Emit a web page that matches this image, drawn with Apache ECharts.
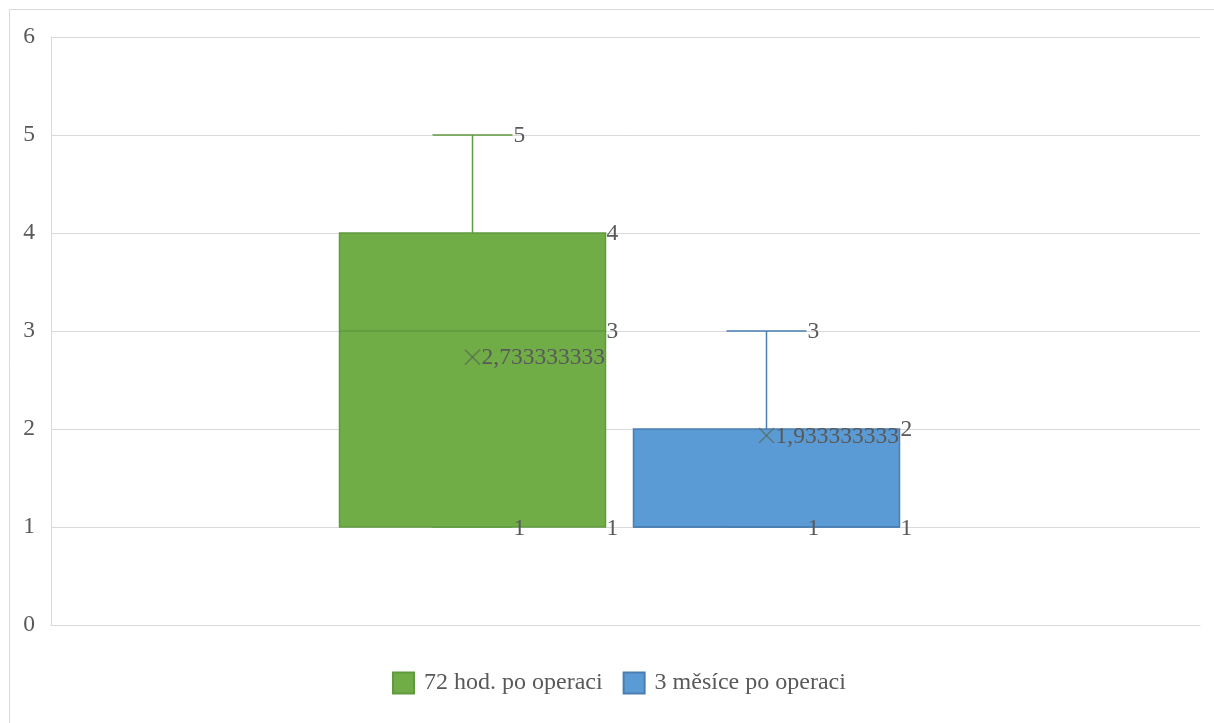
<!DOCTYPE html>
<html>
<head>
<meta charset="utf-8">
<script src="https://cdn.jsdelivr.net/npm/echarts@6/dist/echarts.min.js"></script>
<style>
html,body{margin:0;padding:0;background:#fff;}
#chart{width:1214px;height:723px;}
</style>
</head>
<body>
<div id="chart"></div>
<script>
const categories = ['72 hod. po operaci', '3 měsíce po operaci'];
const minValues = [1, 1];
const q1Values = [1, 1];
const medianValues = [3, 1];
const q3Values = [4, 2];
const maxValues = [5, 3];
const meanValues = [2.733333333, 1.933333333];
const yTickLabels = ['0', '1', '2', '3', '4', '5', '6'];

const fillColors = ['#70AD47', '#5B9BD5'];
const lineColors = ['#5f9a3e', '#4a7eb0'];
const centerOffsets = [-0.1336, 0.1227]; // fraction of band width
const boxWidthFrac = 0.2315;
const capWidthFrac = 0.0696;
const FONT = '"Liberation Serif", "Times New Roman", serif';
const TXT = '#595959';
const FS = 23.5;

function fmt(v) { return String(v).replace('.', ','); }

function makeRender(gi) {
  return function (params, api) {
    const band = api.size([1, 0])[0];
    const c0 = api.coord([0, api.value(1)]);
    const cx = Math.round(c0[0] + centerOffsets[gi] * band) + 0.5;
    const bw = boxWidthFrac * band;
    const cw = capWidthFrac * band;
    const y = v => api.coord([0, v])[1];
    const yMin = y(api.value(1)), yQ1 = y(api.value(2)), yMed = y(api.value(3)),
          yQ3 = y(api.value(4)), yMax = y(api.value(5)), yMean = y(api.value(6));
    const left = cx - bw / 2, right = cx + bw / 2;
    const ls = { stroke: lineColors[gi], lineWidth: 1.5 };
    const children = [];
    children.push({ type: 'line', shape: { x1: cx, y1: yQ3, x2: cx, y2: yMax }, style: ls });
    children.push({ type: 'line', shape: { x1: cx - cw / 2, y1: yMax, x2: cx + cw / 2, y2: yMax }, style: ls });
    children.push({ type: 'line', shape: { x1: cx, y1: yQ1, x2: cx, y2: yMin }, style: ls });
    children.push({ type: 'line', shape: { x1: cx - cw / 2, y1: yMin, x2: cx + cw / 2, y2: yMin }, style: ls });
    children.push({ type: 'rect', shape: { x: left, y: yQ3, width: bw, height: yQ1 - yQ3 },
      style: { fill: fillColors[gi], stroke: lineColors[gi], lineWidth: 1.5 } });
    children.push({ type: 'line', shape: { x1: left, y1: yMed, x2: right, y2: yMed }, style: ls });
    const m = 7.5;
    const ms = { stroke: '#5a6e55', lineWidth: 1.5, opacity: 0.75 };
    children.push({ type: 'line', shape: { x1: cx - m, y1: yMean - m, x2: cx + m, y2: yMean + m }, style: ms });
    children.push({ type: 'line', shape: { x1: cx - m, y1: yMean + m, x2: cx + m, y2: yMean - m }, style: ms });
    const lab = (x, yy, t) => ({ type: 'text', x: x, y: yy,
      style: { text: t, fill: TXT, font: FS + 'px ' + FONT, align: 'left', verticalAlign: 'middle' } });
    children.push(lab(cx + cw / 2 + 1, yMax + 1, fmt(api.value(5))));
    children.push(lab(cx + cw / 2 + 1, yMin + 2, fmt(api.value(1))));
    children.push(lab(right + 1, yQ3 + 1, fmt(api.value(4))));
    if (api.value(3) !== api.value(2)) {
      children.push(lab(right + 1, yMed + 1, fmt(api.value(3))));
    }
    children.push(lab(right + 1, yQ1 + 2, fmt(api.value(2))));
    children.push(lab(cx + 9, yMean + 1, fmt(api.value(6))));
    return { type: 'group', children: children };
  };
}

const series = categories.map((name, gi) => ({
  name: name,
  type: 'custom',
  renderItem: makeRender(gi),
  itemStyle: { color: fillColors[gi], borderColor: lineColors[gi], borderWidth: 1 },
  data: [[0, minValues[gi], q1Values[gi], medianValues[gi], q3Values[gi], maxValues[gi], meanValues[gi]]],
  encode: { x: 0, y: [1, 2, 3, 4, 5] },
  clip: false
}));

const chart = echarts.init(document.getElementById('chart'), null, { renderer: 'canvas' });
chart.setOption({
  animation: false,
  backgroundColor: '#fff',
  graphic: [{
    type: 'rect', left: 7, top: 7, shape: { width: 1300, height: 800 },
    style: { fill: 'none', stroke: '#d9d9d9', lineWidth: 1 }, silent: true, z: -10
  }],
  grid: { left: 51, right: 14, top: 37, bottom: 98 },
  legend: {
    top: 671,
    left: 392,
    padding: 0,
    itemWidth: 21,
    itemHeight: 21,
    itemGap: 20,
    icon: 'rect',
    textStyle: { fontFamily: FONT, fontSize: 24, color: TXT, padding: [2, 0, 0, 5] },
    data: categories
  },
  xAxis: {
    type: 'category',
    data: [''],
    axisLine: { show: true, lineStyle: { color: '#d9d9d9', width: 1 } },
    axisTick: { show: false },
    axisLabel: { show: false },
    splitLine: { show: false }
  },
  yAxis: {
    type: 'value',
    min: 0, max: 6, interval: 1,
    axisLine: { show: true, lineStyle: { color: '#d9d9d9', width: 1 } },
    axisTick: { show: false },
    axisLabel: { margin: 16, fontFamily: FONT, fontSize: FS, color: TXT,
      formatter: v => yTickLabels[v] },
    splitLine: { lineStyle: { color: '#d9d9d9', width: 1 } }
  },
  series: series
});
</script>
</body>
</html>
